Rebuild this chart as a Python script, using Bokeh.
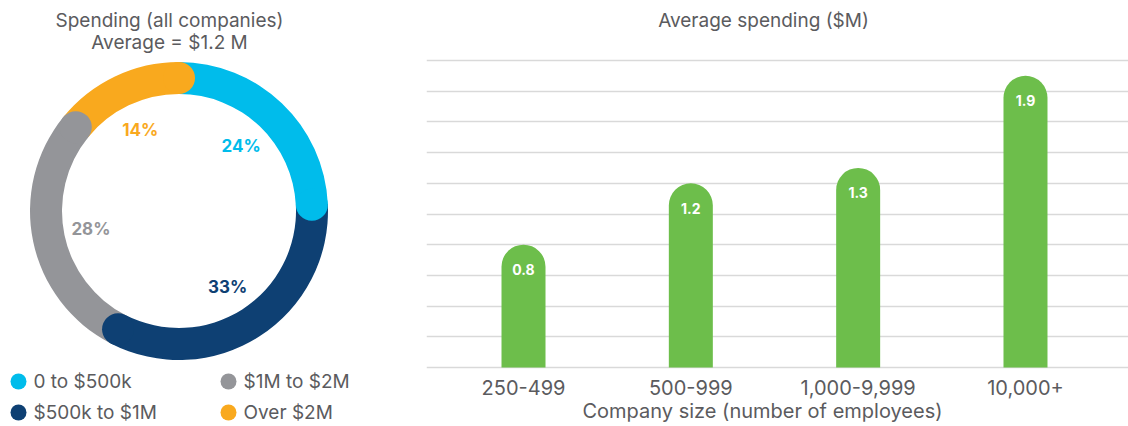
import math
from bokeh.plotting import figure
from bokeh.layouts import row
from bokeh.models import Range1d, FixedTicker, Grid, ColumnDataSource, Label
from bokeh.core.properties import value
from bokeh.embed import file_html
from bokeh.resources import INLINE

# ---------------- data ----------------
segments = ["0 to $500k", "$500k to $1M", "$1M to $2M", "Over $2M"]
shares = [24, 33, 28, 14]
seg_colors = ["#00bceb", "#0e4073", "#949599", "#f9a91e"]

sizes = ["250-499", "500-999", "1,000-9,999", "10,000+"]
avg_spend = [0.8, 1.2, 1.3, 1.9]
y_ticks = [0.0, 0.2, 0.4, 0.6, 0.8, 1.0, 1.2, 1.4, 1.6, 1.8, 2.0]

donut_title = ["Spending (all companies)", "Average = $1.2 M"]
bar_title = "Average spending ($M)"
x_label = "Company size (number of employees)"

FONT = "Inter"
GRAY = "#5b5b5e"
GREEN = "#6dbe4b"

# page geometry (both figures use their whole area as the frame)
PAGE_W, PAGE_H = 1128, 426
SPLIT_X = 426                  # left figure | right figure

# ---------------- donut (left) ----------------
H = PAGE_H  # data y = H - pixel y  (1 data unit = 1 px)
CX, CY = 178.5, H - 210.5
R_IN, R_OUT = 117, 149
R_MID = (R_IN + R_OUT) / 2
CAP = (R_OUT - R_IN) / 2
R_LABEL = 90

total = sum(shares)
starts, ends, cap_x, cap_y, lab_x, lab_y = [], [], [], [], [], []
cum = 0.0
for s in shares:
    f0 = cum / total
    cum += s
    f1 = cum / total
    a0 = math.pi / 2 - 2 * math.pi * f0
    a1 = math.pi / 2 - 2 * math.pi * f1
    am = (a0 + a1) / 2
    starts.append(a0)
    ends.append(a1)
    cap_x.append(CX + R_MID * math.cos(a1))
    cap_y.append(CY + R_MID * math.sin(a1))
    lab_x.append(CX + R_LABEL * math.cos(am))
    lab_y.append(CY + R_LABEL * math.sin(am))

src = ColumnDataSource(dict(
    start=starts, end=ends, color=seg_colors, cx=cap_x, cy=cap_y,
    lx=lab_x, ly=lab_y, pct=[f"{s}%" for s in shares], name=segments,
))

p1 = figure(width=SPLIT_X, height=PAGE_H, x_range=Range1d(0, SPLIT_X),
            y_range=Range1d(0, PAGE_H),
            output_backend="svg", toolbar_location=None, title=None, min_border=0,
            x_axis_location=None, y_axis_location=None, outline_line_color=None)
p1.grid.visible = False

p1.annular_wedge(x=CX, y=CY, inner_radius=R_IN, outer_radius=R_OUT,
                 start_angle="start", end_angle="end", direction="clock",
                 fill_color="color", line_color=None, source=src)
p1.circle(x="cx", y="cy", radius=CAP, fill_color="color", line_color=None, source=src)
p1.text(x="lx", y="ly", text="pct", text_color="color", source=src,
        text_font=value(FONT), text_font_style="bold", text_font_size="17px",
        text_align="center", text_baseline="middle")

for txt, ty in zip(donut_title, [20, 42]):
    p1.add_layout(Label(x=169, y=H - ty, x_units="screen", y_units="screen",
                        text=txt, text_color=GRAY, text_font=FONT, text_font_size="19px",
                        text_align="center", text_baseline="middle"))

# legend: 2 columns x 2 rows
leg_x = [18 + 210 * (i // 2) for i in range(4)]
leg_y = [H - (381 + 31 * (i % 2)) for i in range(4)]
leg_src = ColumnDataSource(dict(x=leg_x, y=leg_y, tx=[x + 15 for x in leg_x],
                                color=seg_colors, name=segments))
p1.scatter(x="x", y="y", size=16, marker="circle", fill_color="color",
           line_color=None, source=leg_src)
p1.text(x="tx", y="y", text="name", text_color=GRAY, source=leg_src,
        text_font=value(FONT), text_font_size="19px",
        text_align="left", text_baseline="middle")

# ---------------- bars (right) ----------------
idx = list(range(len(sizes)))
X0_PX, DX_PX = 523, 167.33     # first bar centre, bar spacing (px)
Y0_PX, PX_PER_UNIT = 367, 153.5
W2 = PAGE_W - SPLIT_X
x_start = (SPLIT_X - X0_PX) / DX_PX
p2 = figure(width=W2, height=PAGE_H,
            x_range=Range1d(x_start, x_start + W2 / DX_PX),
            y_range=Range1d(-(PAGE_H - Y0_PX) / PX_PER_UNIT, Y0_PX / PX_PER_UNIT),
            output_backend="svg", toolbar_location=None, title=None, min_border=0,
            y_axis_location=None, outline_line_color=None)
p2.grid.visible = False
p2.add_layout(Grid(dimension=1, ticker=FixedTicker(ticks=y_ticks),
                   grid_line_color="#d9d9d9", grid_line_width=1.5))

p2.vbar(x=idx, top=avg_spend, bottom=0, width=44 / DX_PX, fill_color=GREEN,
        line_color=None, border_radius=(22, 22, 0, 0))
p2.text(x=idx, y=avg_spend, text=[f"{v:.1f}" for v in avg_spend], y_offset=25,
        text_color="white", text_font=value(FONT), text_font_style="bold",
        text_font_size="14px", text_align="center", text_baseline="middle")

p2.add_layout(Label(x=763 - SPLIT_X, y=H - 20, x_units="screen", y_units="screen",
                    text=bar_title, text_color=GRAY, text_font=FONT, text_font_size="19px",
                    text_align="center", text_baseline="middle"))

ax = p2.xaxis[0]
ax.fixed_location = 0
ax.bounds = (x_start, 2 * (762 - X0_PX) / DX_PX - x_start)
ax.ticker = FixedTicker(ticks=idx)
ax.major_label_overrides = {i: s for i, s in zip(idx, sizes)}
ax.axis_line_color = None
ax.major_tick_line_color = None
ax.minor_tick_line_color = None
ax.major_tick_out = 0
ax.major_tick_in = 0
ax.major_label_standoff = 12
ax.major_label_text_font = FONT
ax.major_label_text_font_size = "20px"
ax.major_label_text_color = GRAY
ax.axis_label = x_label
ax.axis_label_text_font = FONT
ax.axis_label_text_font_size = "20px"
ax.axis_label_text_font_style = "normal"
ax.axis_label_text_color = GRAY
ax.axis_label_standoff = 1

layout = row(p1, p2)
open("out.html", "w").write(file_html(layout, INLINE))
